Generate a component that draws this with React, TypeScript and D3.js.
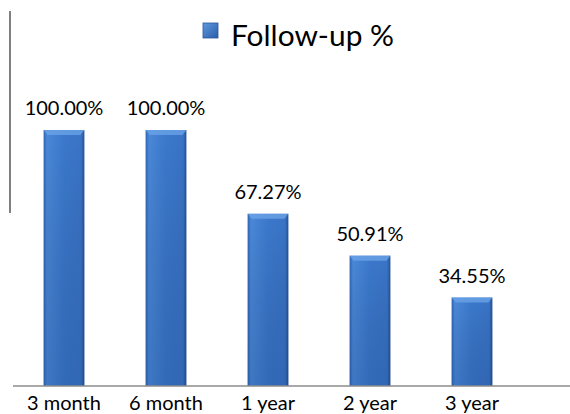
import React from "react";
import * as d3 from "d3";

const categories = ["3 month", "6 month", "1 year", "2 year", "3 year"];
const values = [100, 100, 67.27, 50.91, 34.55];
const valueLabels = ["100.00%", "100.00%", "67.27%", "50.91%", "34.55%"];
const seriesName = "Follow-up %";

const W = 570;
const H = 414;
const FONT = "Lato, 'Open Sans', sans-serif";

export default function App() {
  const x = d3.scaleBand<string>().domain(categories).range([13, 523]).paddingInner(0.6).paddingOuter(0.3);
  const y = d3.scaleLinear().domain([0, 100]).range([386, 130]);
  const bw = x.bandwidth();

  return (
    <svg width={W} height={H} style={{ position: "absolute", left: 0, top: 0, background: "#fff" }}>
      <defs>
        <linearGradient id="barH" x1="0" x2="1" y1="0" y2="0">
          <stop offset="0" stopColor="#2f63b3" />
          <stop offset="0.08" stopColor="#4a88d8" />
          <stop offset="0.5" stopColor="#3b78cc" />
          <stop offset="0.92" stopColor="#3a74c6" />
          <stop offset="1" stopColor="#234f94" />
        </linearGradient>
        <linearGradient id="barV" x1="0" x2="0" y1="0" y2="1">
          <stop offset="0" stopColor="#000" stopOpacity="0" />
          <stop offset="1" stopColor="#0a2a60" stopOpacity="0.18" />
        </linearGradient>
        <linearGradient id="legGrad" x1="0" x2="1" y1="0" y2="1">
          <stop offset="0" stopColor="#5d9ae0" />
          <stop offset="1" stopColor="#2a5ca8" />
        </linearGradient>
      </defs>
      <line x1={10} x2={10} y1={11} y2={213} stroke="#808080" strokeWidth={2} />
      {/* legend */}
      <rect x={203} y={23} width={15} height={15} fill="url(#legGrad)" stroke="#2a5599" strokeWidth={0.8} />
      <text x={231} y={46} fontFamily={FONT} fontSize={28} fill="#000" textLength={163} lengthAdjust="spacingAndGlyphs">{seriesName}</text>
      {categories.map((c, i) => {
        const bx = x(c)!;
        const top = y(values[i]);
        const h = y(0) - top;
        return (
          <g key={c}>
            <rect x={bx} y={top} width={bw} height={h} fill="url(#barH)" />
            <rect x={bx} y={top} width={bw} height={h} fill="url(#barV)" />
            <path
              d={`M${bx},${top} L${bx + bw},${top} L${bx + bw - 4},${top + 5} L${bx + 4},${top + 5} Z`}
              fill="#6aa3e6"
              opacity={0.8}
            />
            <text
              x={bx + bw / 2}
              y={top - 15}
              textAnchor="middle"
              fontFamily={FONT}
              fontSize={20}
              fill="#000"
            >
              {valueLabels[i]}
            </text>
            <text
              x={bx + bw / 2}
              y={410}
              textAnchor="middle"
              fontFamily={FONT}
              fontSize={20}
              fill="#000"
            >
              {c}
            </text>
          </g>
        );
      })}
      <line x1={13} x2={570} y1={386} y2={386} stroke="#8c8c8c" strokeWidth={1.5} />
    </svg>
  );
}
